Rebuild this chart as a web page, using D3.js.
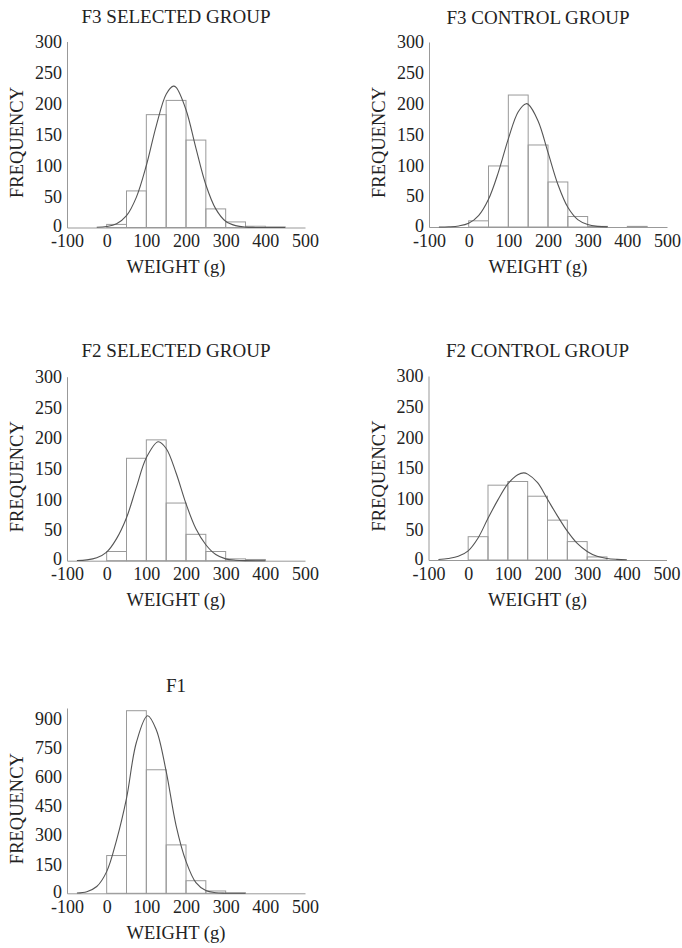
<!DOCTYPE html>
<html>
<head>
<meta charset="utf-8">
<script src="https://cdn.jsdelivr.net/npm/d3@7"></script>
<style>
  body { margin: 0; background: #fff; }
  svg text { font-family: "Liberation Serif", "Times New Roman", serif; fill: #222; }
</style>
</head>
<body>
<svg id="chart" width="682" height="948"></svg>
<script>
// bins are 50 g wide, starting at these weights
const binStarts = [0, 50, 100, 150, 200, 250, 300, 350, 400, 450];
const binWidth = 50;

// bar heights
const f3SelectedCounts = [5, 59, 182, 205, 141, 30, 9, 2, 1, 0];
const f3ControlCounts = [10, 99, 214, 133, 73, 17, 1, 0, 1, 0];
const f2SelectedCounts = [15, 167, 197, 94, 43, 15, 3, 2, 0, 0];
const f2ControlCounts = [38, 122, 128, 104, 65, 30, 5, 0, 0, 0];
const f1Counts = [195, 943, 638, 250, 65, 12, 2, 0, 0, 0];

// fitted curves, [weight, frequency]
const f3SelectedCurve = [[-25, 0.3], [0, 1.5], [25, 6], [50, 19], [75, 49], [100, 100], [125, 164], [150, 215], [168, 228], [175, 226], [200, 190], [225, 128], [250, 69], [275, 30], [300, 10], [325, 3], [350, 0.6], [375, 0.1], [400, 0], [450, 0]];
const f3ControlCurve = [[-75, 0.1], [-50, 0.4], [-25, 1.7], [0, 6], [25, 18.5], [50, 45], [75, 89], [100, 143], [125, 187], [145, 200], [150, 199], [175, 172], [200, 121], [225, 69], [250, 32], [275, 12], [300, 4], [325, 1], [350, 0.2]];
const f2SelectedCurve = [[-75, 0.3], [-50, 1.3], [-25, 4.8], [0, 14], [25, 36], [50, 70], [75, 120], [100, 168], [130, 194], [150, 183], [175, 143], [200, 93], [225, 52], [250, 26], [275, 10], [300, 3], [325, 0.8], [350, 0.1], [400, 0]];
const f2ControlCurve = [[-75, 0.8], [-50, 2.5], [-25, 6], [0, 15], [25, 36], [50, 68], [75, 98], [100, 124], [125, 139], [140, 142], [150, 140], [175, 126], [200, 99], [225, 72], [250, 47], [275, 27], [300, 14], [325, 6], [350, 2.5], [375, 1], [400, 0.3]];
const f1Curve = [[-75, 1.6], [-50, 8.5], [-25, 35], [0, 112], [25, 275], [50, 490], [75, 780], [103, 917], [125, 845], [150, 630], [175, 350], [200, 165], [225, 55], [250, 14], [275, 3], [300, 0.5], [350, 0]];

const xTicks = [-100, 0, 100, 200, 300, 400, 500];
const yTicksSmall = [0, 50, 100, 150, 200, 250, 300];
const yTicksF1 = [0, 150, 300, 450, 600, 750, 900];

const panels = [
  { title: 'F3 SELECTED GROUP', counts: f3SelectedCounts, curve: f3SelectedCurve, yTicks: yTicksSmall, yMax: 300,
    x0: 67, x1: 305, yBottom: 227.5, yTop: 41.5, titleY: 23 },
  { title: 'F3 CONTROL GROUP', counts: f3ControlCounts, curve: f3ControlCurve, yTicks: yTicksSmall, yMax: 300,
    x0: 429, x1: 667, yBottom: 227, yTop: 42, titleY: 23.5 },
  { title: 'F2 SELECTED GROUP', counts: f2SelectedCounts, curve: f2SelectedCurve, yTicks: yTicksSmall, yMax: 300,
    x0: 67, x1: 305, yBottom: 560.7, yTop: 376.7, titleY: 357.3 },
  { title: 'F2 CONTROL GROUP', counts: f2ControlCounts, curve: f2ControlCurve, yTicks: yTicksSmall, yMax: 300,
    x0: 428.5, x1: 666.5, yBottom: 560, yTop: 376, titleY: 357.3 },
  { title: 'F1', counts: f1Counts, curve: f1Curve, yTicks: yTicksF1, yMax: 957,
    x0: 67, x1: 305, yBottom: 893.3, yTop: 708, titleY: 691.7 }
];

const svg = d3.select('#chart');
svg.append('rect').attr('width', 682).attr('height', 948).attr('fill', '#fff');

panels.forEach(p => {
  const x = d3.scaleLinear().domain([-100, 500]).range([p.x0, p.x1]);
  const y = d3.scaleLinear().domain([0, p.yMax]).range([p.yBottom, p.yTop]);
  const g = svg.append('g');

  // bars
  g.selectAll('rect.bar')
    .data(binStarts.map((b, i) => ({ b, v: p.counts[i] })).filter(d => d.v > 0))
    .enter().append('rect')
    .attr('class', 'bar')
    .attr('x', d => x(d.b))
    .attr('y', d => y(d.v))
    .attr('width', d => x(d.b + binWidth) - x(d.b))
    .attr('height', d => y(0) - y(d.v))
    .attr('fill', 'none')
    .attr('stroke', '#9a9a9a')
    .attr('stroke-width', 1);

  // axes
  const xAxis = g.append('g')
    .attr('transform', `translate(0,${p.yBottom})`)
    .call(d3.axisBottom(x).tickValues(xTicks).tickSize(0).tickPadding(7).tickFormat(d3.format('d')));
  const yAxis = g.append('g')
    .attr('transform', `translate(${p.x0},0)`)
    .call(d3.axisLeft(y).tickValues(p.yTicks).tickSize(0).tickPadding(5));
  [xAxis, yAxis].forEach(a => {
    a.select('.domain').attr('stroke', '#999').attr('stroke-width', 1);
    a.selectAll('text').attr('font-size', 18).attr('font-family', '"Liberation Serif", serif').attr('fill', '#222');
  });
  xAxis.selectAll('text').text(d => d < 0 ? '-' + Math.abs(d) : d);
  // the zero label sits right on top of "-100"; lift it a touch
  yAxis.selectAll('.tick').filter(d => d === 0).select('text').attr('dy', '0.23em');

  // fitted curve
  g.append('path')
    .datum(p.curve)
    .attr('d', d3.line().x(d => x(d[0])).y(d => y(d[1])).curve(d3.curveCatmullRom.alpha(0.5)))
    .attr('fill', 'none')
    .attr('stroke', '#555')
    .attr('stroke-width', 1.1);

  // labels
  const cx = p.x0 + 109;
  g.append('text').attr('x', cx).attr('y', p.titleY)
    .attr('text-anchor', 'middle').attr('font-size', 19).text(p.title);
  g.append('text').attr('x', cx).attr('y', p.yBottom + 45.5)
    .attr('text-anchor', 'middle').attr('font-size', 18.5).text('WEIGHT (g)');
  g.append('text')
    .attr('transform', `translate(${p.x0 - 44},${(p.yBottom + p.yTop) / 2 + 8}) rotate(-90)`)
    .attr('text-anchor', 'middle').attr('font-size', 18.5).text('FREQUENCY');
});
</script>
</body>
</html>
